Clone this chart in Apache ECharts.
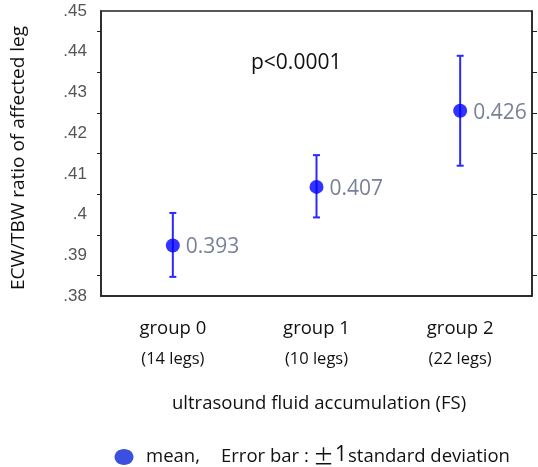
<!DOCTYPE html>
<html style="height: 100%">
<head>
    <meta charset="utf-8">
    <script src="https://cdn.jsdelivr.net/npm/echarts@6/dist/echarts.min.js"></script>
    <title>ECW/TBW ratio by FS group</title>
</head>
<body style="height: 100%; margin: 0; background: #fff">
<div id="container" style="width: 538px; height: 467px"></div>
<script type="text/javascript">

    // groups and values
    let groups = ["group 0", "group 1", "group 2"];
    let legs = ["(14 legs)", "(10 legs)", "(22 legs)"];
    let means = [0.3924, 0.4068, 0.4255];
    let meanLabels = ["0.393", "0.407", "0.426"];
    let sdLow = [0.3847, 0.3993, 0.4120];
    let sdHigh = [0.4004, 0.4146, 0.4390];
    let yTickLabels = {"0.45": ".45", "0.44": ".44", "0.43": ".43", "0.42": ".42", "0.41": ".41", "0.4": ".4", "0.39": ".39", "0.38": ".38"};

    let pointData = means.map((m, i) => ({value: [i, m], label: {formatter: meanLabels[i]}}));
    let barData = groups.map((g, i) => [i, sdLow[i], sdHigh[i]]);

    let dom = document.getElementById("container");
    let chart = echarts.init(dom);

    let axisColor = "#222";
    let textFont = "'Open Sans'";

    chart.setOption({
        animation: false,
        grid: {left: 101, right: 6, top: 11, bottom: 171, show: true, borderColor: axisColor, borderWidth: 1.5},
        xAxis: {
            type: "category",
            data: groups,
            boundaryGap: true,
            axisLine: {lineStyle: {color: axisColor, width: 1.5}},
            axisTick: {alignWithLabel: true, length: 5, lineStyle: {color: axisColor}},
            axisLabel: {
                margin: 17,
                formatter: (v, i) => "{a|" + v + "}\n{b|" + legs[i] + "}",
                rich: {
                    a: {fontFamily: "Open Sans", fontSize: 18.5, color: "#111", lineHeight: 31},
                    b: {fontFamily: "Open Sans", fontSize: 16.5, color: "#111", lineHeight: 31}
                }
            }
        },
        yAxis: [
            {
                type: "value", min: 0.38, max: 0.45, interval: 0.01,
                position: "left",
                splitLine: {show: false},
                axisLine: {show: true, lineStyle: {color: axisColor, width: 1.5}},
                axisTick: {length: 5, lineStyle: {color: axisColor}},
                minorTick: {show: true, splitNumber: 2, length: 4, lineStyle: {color: axisColor}},
                axisLabel: {
                    margin: 14,
                    fontFamily: "Liberation Sans Narrow, Liberation Sans",
                    fontSize: 17, color: "#555",
                    formatter: v => yTickLabels[String(+v.toFixed(2))]
                }
            },
            {
                type: "value", min: 0.38, max: 0.45, interval: 0.01,
                position: "right",
                splitLine: {show: false},
                axisLine: {show: true, lineStyle: {color: axisColor, width: 1.5}},
                axisTick: {length: 5, lineStyle: {color: axisColor}},
                minorTick: {show: true, splitNumber: 2, length: 5, lineStyle: {color: axisColor}},
                axisLabel: {show: false}
            }
        ],
        series: [
            {
                type: "custom",
                data: barData,
                z: 2,
                renderItem: function (params, api) {
                    let lo = api.coord([api.value(0), api.value(1)]);
                    let hi = api.coord([api.value(0), api.value(2)]);
                    let cap = 3.5;
                    let style = {stroke: "#2a2aff", lineWidth: 2};
                    return {
                        type: "group",
                        children: [
                            {type: "line", shape: {x1: lo[0], y1: lo[1], x2: hi[0], y2: hi[1]}, style: style},
                            {type: "line", shape: {x1: lo[0] - cap, y1: lo[1], x2: lo[0] + cap, y2: lo[1]}, style: style},
                            {type: "line", shape: {x1: hi[0] - cap, y1: hi[1], x2: hi[0] + cap, y2: hi[1]}, style: style}
                        ]
                    };
                }
            },
            {
                type: "scatter",
                data: pointData,
                z: 3,
                symbolSize: 14,
                itemStyle: {color: "#0000ff"},
                label: {
                    show: true,
                    position: "right",
                    distance: 6,
                    offset: [0, 2],
                    fontFamily: "Open Sans",
                    fontSize: 21,
                    color: "#56627a"
                }
            }
        ],
        graphic: [
            // y axis title, rotated
            {type: "text", x: 19, y: 158, rotation: Math.PI / 2,
                style: {text: "ECW/TBW ratio of affected leg", font: "19px " + textFont, fill: "#111", align: "center", verticalAlign: "middle"}},
            {type: "text", left: 251, top: 53, style: {text: "p<0.0001", font: "21px " + textFont, fill: "#111"}},
            {type: "text", left: 172, top: 394, style: {text: "ultrasound fluid accumulation (FS)", font: "18.5px " + textFont, fill: "#111"}},
            {type: "ellipse", shape: {cx: 124, cy: 457, rx: 9.5, ry: 8}, style: {fill: "#3b4fe0"}},
            {type: "text", left: 146, top: 447, style: {text: "mean,", font: "18.5px " + textFont, fill: "#111"}},
            {type: "text", left: 221, top: 447, style: {text: "Error bar", font: "18.5px " + textFont, fill: "#111"}},
            {type: "text", left: 304, top: 447, style: {text: ":", font: "18.5px " + textFont, fill: "#111"}},
            {type: "text", left: 313, top: 446, style: {text: "±", font: "21px 'Noto Sans CJK JP'", fill: "#111"}},
            {type: "text", left: 335, top: 445, style: {text: "1", font: "21px " + textFont, fill: "#111"}},
            {type: "text", left: 348, top: 447, style: {text: "standard deviation", font: "18.5px " + textFont, fill: "#111"}}
        ]
    }, true);

</script>
</body>
</html>
